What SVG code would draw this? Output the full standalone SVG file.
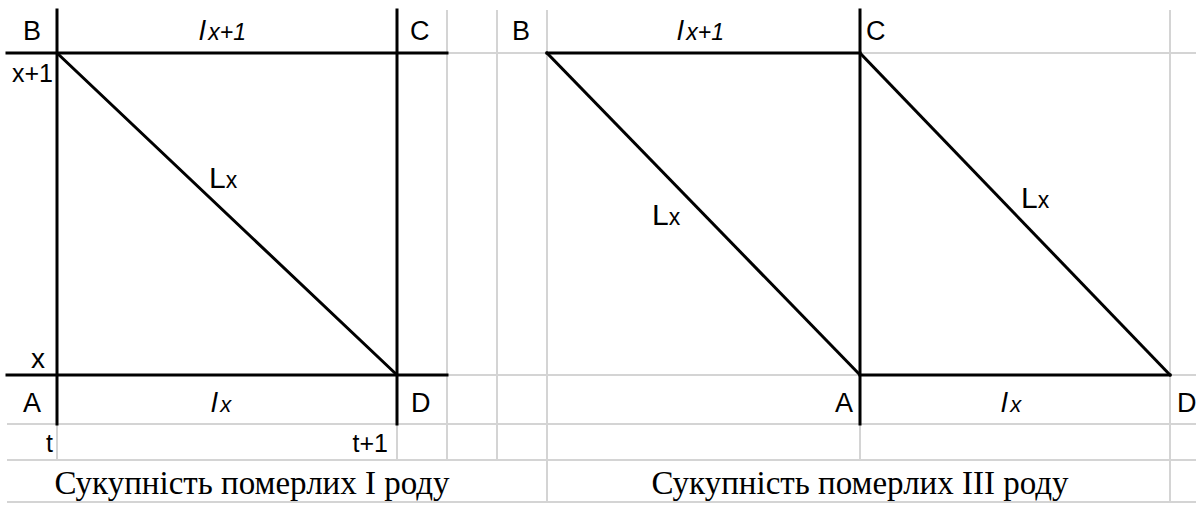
<svg xmlns="http://www.w3.org/2000/svg" width="1196" height="505" viewBox="0 0 1196 505">
<style>
.g{stroke:#d4d4d4;stroke-width:2;fill:none}
.k{stroke:#000;stroke-width:3;fill:none;stroke-linecap:square}
.s{font-family:"Liberation Sans",Arial,sans-serif;fill:#000}
.lab{font-size:27px}
.it{font-style:italic}
.cap{font-family:"Liberation Serif","Times New Roman",serif;font-size:33px;fill:#000}
</style>
<rect width="1196" height="505" fill="#fff"/>
<g id="grid">
<line class="g" x1="7" y1="53" x2="1196" y2="53"/>
<line class="g" x1="7" y1="375" x2="1196" y2="375"/>
<line class="g" x1="7" y1="424" x2="1196" y2="424"/>
<line class="g" x1="7" y1="460" x2="1196" y2="460"/>
<line class="g" x1="7" y1="502" x2="1196" y2="502"/>
<line class="g" x1="57" y1="10" x2="57" y2="460"/>
<line class="g" x1="397" y1="10" x2="397" y2="460"/>
<line class="g" x1="447" y1="10" x2="447" y2="460"/>
<line class="g" x1="497" y1="10" x2="497" y2="460"/>
<line class="g" x1="547" y1="10" x2="547" y2="502"/>
<line class="g" x1="860" y1="10" x2="860" y2="460"/>
<line class="g" x1="1170" y1="10" x2="1170" y2="502"/>
</g>
<g id="panel-left">
<line class="k" x1="7" y1="53" x2="447" y2="53"/>
<line class="k" x1="7" y1="375" x2="447" y2="375"/>
<line class="k" x1="57" y1="10" x2="57" y2="424"/>
<line class="k" x1="397" y1="10" x2="397" y2="424"/>
</g>
<g id="panel-right">
<line class="k" x1="547" y1="53" x2="860" y2="53"/>
<line class="k" x1="860" y1="375" x2="1170" y2="375"/>
<line class="k" x1="860" y1="10" x2="860" y2="424"/>
</g>
<g id="connectors">
<line class="k" x1="57" y1="53" x2="397" y2="375"/>
<line class="k" x1="547" y1="53" x2="860" y2="375"/>
<line class="k" x1="860" y1="53" x2="1170" y2="375"/>
</g>
<g id="node-B1"><text class="s lab" x="32" y="40" text-anchor="middle">B</text></g>
<g id="node-C1"><text class="s lab" x="410" y="40">C</text></g>
<g id="node-A1"><text class="s lab" x="32" y="412" text-anchor="middle">A</text></g>
<g id="node-D1"><text class="s lab" x="411" y="412">D</text></g>
<g id="label-lx1-top"><text class="s it" x="199" y="40"><tspan font-size="28">l</tspan><tspan font-size="23" dx="3">x+1</tspan></text></g>
<g id="label-lx1-bot"><text class="s it" x="211" y="412"><tspan font-size="28">l</tspan><tspan font-size="22" dx="3">x</tspan></text></g>
<g id="label-Lx1"><text class="s" x="209" y="188"><tspan font-size="30">L</tspan><tspan font-size="23">x</tspan></text></g>
<g id="axis-left">
<text class="s" x="53" y="82" font-size="25" text-anchor="end">x+1</text>
<text class="s" x="45" y="368" font-size="28" text-anchor="end">x</text>
<text class="s" x="53" y="452" font-size="25" text-anchor="end">t</text>
<text class="s" x="388" y="452" font-size="25" text-anchor="end">t+1</text>
</g>
<g id="node-B2"><text class="s lab" x="512" y="40">B</text></g>
<g id="node-C2"><text class="s lab" x="866" y="40">C</text></g>
<g id="node-A2"><text class="s lab" x="853" y="412" text-anchor="end">A</text></g>
<g id="node-D2"><text class="s lab" x="1177" y="412">D</text></g>
<g id="label-lx2-top"><text class="s it" x="677" y="40"><tspan font-size="28">l</tspan><tspan font-size="23" dx="3">x+1</tspan></text></g>
<g id="label-lx2-bot"><text class="s it" x="1001" y="412"><tspan font-size="28">l</tspan><tspan font-size="22" dx="3">x</tspan></text></g>
<g id="label-Lx2"><text class="s" x="652" y="225"><tspan font-size="30">L</tspan><tspan font-size="23">x</tspan></text></g>
<g id="label-Lx3"><text class="s" x="1021" y="208"><tspan font-size="30">L</tspan><tspan font-size="23">x</tspan></text></g>
<g id="captions">
<text class="cap" x="252" y="494" text-anchor="middle">Сукупність померлих І роду</text>
<text class="cap" x="860" y="494" text-anchor="middle">Сукупність померлих ІІІ роду</text>
</g>
</svg>
